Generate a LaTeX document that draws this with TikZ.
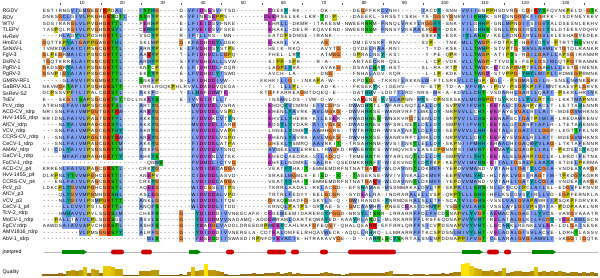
\documentclass[tikz,border=0pt]{standalone}
\usepackage{fontspec}
\setmainfont{Liberation Sans}
\newfontfamily\resfam{Liberation Sans}
\definecolor{hyd}{HTML}{80A0F0}
\definecolor{pos}{HTML}{F01505}
\definecolor{neg}{HTML}{C048C0}
\definecolor{pol}{HTML}{15C015}
\definecolor{gly}{HTML}{F09048}
\definecolor{pro}{HTML}{C0C000}
\definecolor{aro}{HTML}{15A4A4}
\definecolor{qlo}{HTML}{7F4F10}
\definecolor{qhi}{HTML}{FFE400}
\definecolor{jgreen}{HTML}{008A00}
\definecolor{jred}{HTML}{CC0000}
\newdimen\rescx \newdimen\rescxc \newdimen\rescy \newdimen\rescyb
\def\rdef#1#2{\expandafter\def\csname rcl#1\endcsname{#2}}
\rdef{A}{hyd}\rdef{I}{hyd}\rdef{L}{hyd}\rdef{M}{hyd}\rdef{F}{hyd}\rdef{W}{hyd}\rdef{V}{hyd}\rdef{C}{hyd}
\rdef{K}{pos}\rdef{R}{pos}
\rdef{E}{neg}\rdef{D}{neg}
\rdef{N}{pol}\rdef{Q}{pol}\rdef{S}{pol}\rdef{T}{pol}
\rdef{G}{gly}\rdef{P}{pro}\rdef{H}{aro}\rdef{Y}{aro}
\def\resloop#1{\ifx#1\relax\else\rescell#1\expandafter\resloop\fi}
\def\rescell#1{%
  \ifcsname rcl#1\endcsname
    \edef\rc{\csname rcl#1\endcsname}%
    \pgfsetfillcolor{\rc}%
    \pgfpathrectangle{\pgfqpoint{\rescx}{\rescy}}{\pgfqpoint{4.1pt}{6.4pt}}%
    \pgfusepath{fill}%
  \fi
  \rescxc=\rescx\advance\rescxc by 2.015pt
  \pgftext[base,at={\pgfqpoint{\rescxc}{\rescyb}}]{\uppercase{#1}}%
  \advance\rescx by 4.03pt\relax}
\newcommand\seqrow[4]{%
  \pgfmathsetlength\rescy{-7.835-6.33*#1}%
  \pgfmathsetlength\rescyb{-6.3-6.33*#1}%
  \rescx=42.3pt \resloop#2\relax
  \rescx=191.41pt \resloop#3\relax
  \rescx=388.88pt \resloop#4\relax}
\tikzset{
  lbl/.style={anchor=west,inner sep=0pt,font=\fontsize{5.2}{6}\selectfont},
  rul/.style={inner sep=0pt,font=\fontsize{4.4}{5}\selectfont},
  tickmark/.style={black!70,line width=0.4pt},
  jline/.style={gray!55,line width=0.9pt},
  helix/.style={fill=jred,rounded corners=2.3pt},
  strand/.style={fill=jgreen}
}
\begin{document}
\begin{tikzpicture}[x=1pt,y=1pt]
\fill[white] (0,0) rectangle (600,-277);
\useasboundingbox (0,0) rectangle (600,-277);
% ruler
\foreach \n in {10,20,...,130} \node[rul] (r\n) at ({40.3+4.03*\n+1.5},-3) {\n};
\foreach \n in {5,15,...,135} \draw[tickmark] ({40.3+4.03*\n},-2.5) -- ({40.3+4.03*\n},-5.2);
% labels
\foreach \nm [count=\i] in {RGDV,RDV,WTV,TLEPV,HvReV,HmEV-1,SsNsV-L,FgV-3,DsRV-1,PgRV-1,PgRV-2,GMRV-RF1,GaBRV-XL1,SsReV-SZ,TsEV,PcV\_rdrp,ACD-CV\_rdrp,HvV-145S\_rdrp,AfCV\_rdrp,VCV\_rdrp,CCRS-CV\_rdrp,CeCV-1\_rdrp,AMAV\_rdrp,GaCV-1\_rdrp,FoCV-1\_rdrp,ACD-CV\_p4,HvV-145S\_p4,CCRS-CV\_p4,PcV\_p3,AfCV\_p3,VCV\_p3,CeCV-1\_p4,TcV-2\_rdrp,MoCV-1\_rdrp,{FgCV rdrp},AMV1816\_rdrp,AbV-1\_rdrp}
  \node[lbl] (lab\i) at (2.5,{-4.67-6.33*\i}) {\nm};
\node[lbl] (jlab) at (2.5,-252) {jnetpred};
\node[lbl] (qlab) at (2.5,-272) {Quality};
% alignment
\begin{scope}
\resfam\fontsize{4.6}{5}\selectfont
\seqrow{1}{estirngVIeMGeGtKPdAL----ISTHG-----d-V}{FIDsEsVftsd--------DgekY-rk-----dk------deGffkkCV}{nhi-----IacdY-snn-VVIIenPPhsdvrG-cGiKYSfqvnkPeld-GTk}
\seqrow{2}{dnksGCLgIVLPkGhGKSdTL---SSrYP-----a-V}{FInEsEPPs---------DEErselsk-lkr-Td-P----daeekl-sr}{setiskh-ys-GGsyGnrVIISHHk-srLsnGGVkIIGrfk-isdfneykkv}
\seqrow{3}{sdsirarGLVLPvGhGKTTL----pErHP-----e-L}{FIEIDsVfnke--------EhrLL-dkmr-itakesm-nweerNNm-Fn}{nqlVrkyLrGGYY-snk-VILgHHP-gnLMPnGIIsIGVYaldsesnlekhv}
\seqrow{4}{tasPqlrGIVLPvGhGKSYL----cEHHP-----e-L}{FVEIDsVfske--------EhakL-delr-kqavend-sweerNSm-Fn}{nsyVkkAAkrGKY-dsk-IILgHHS-snLLPnGIrLLGIYsldteesvdqhv}
\seqrow{5}{----hLAgYVLPdshGKTTL----vsdYP-----r-I}{FtLLrs--mn---------eatdPsdnge-irank--------------}{--------sskkY-esk-IYLANNv-keLFdnGIrVLGVLkleshaGvedek}
\seqrow{6}{GqttkPYAIGAPPGaGKTHL----sklMP-----G-k}{FADhDDYLdgk--------EharL-va-----aG------dmievskF-}{rnv-----svP---tnk-MLLTWGP-fdtPkT-hGFIgYV-PtrttHSvhvk}
\seqrow{7}{tvmrdAFAICIPsGcGKTTL----ArrYP-----e-L}{FVDhDsYstPe--------heik-rkq-----avytG---qydeLrAA-}{rni------t-yd-ksk-ILLTWHP-stvPtG-VAVLAAMLvtGtqlrankr}
\seqrow{8}{GlPeGrMAICIPsGcGKTTL----AaKYP-----t-L}{FIDhDCLLGPq--------fhel-lrY-----atmGG---gPraLneY-}{ksi------y-pe-qPr-ILLTWGP-atiPSs-rGILGAFLLaPsGiranmr}
\seqrow{9}{tGqtkrrALAIPsGcGKTTL----ArMYP-----s-F}{FVDhDALLsvw--------siPP-sPr----r-a------artaeCkr-}{qsl------l-cP-vdk-VLLTWGP-ttvdSs-fePLGsIMLqtPGtranmk}
\seqrow{10}{GkdsGrYAIAIPsGeGKTTL----knTcP-----a-L}{FiDhDDLfdqr--------laGPLYra-----avakG---dsaaLNaY-}{hst-----sl-ra-rtP-VLLTWGk-EtcaPGmPtFLGaHLLLestGimenk}
\seqrow{11}{GsnPiGYAIAIPsGcGKTTL----ekTYP-----e-L}{FVDhDCYIswd--------avch-la------dnG-----fnhaLagv-}{kqr------l-lP-kdk-VLLTWGD-stvPPG-YHYLMIPLIrdweGPrmnk}
\seqrow{12}{-----gLAVVIPsGmGKTTL----SnkFP-----s-L}{FIDhDDIVw--------kkhkiLIGi-inkaPa-w-----kpdSGl-tk}{kniLrkknLW-ftlsrkVLLCHgP-GgL--PsGMrLGILn-snsLnWnkGrk}
\seqrow{13}{nkvmGkTAFIIPsGhGKSTT----vrrlrgqkPhlrv}{VLDaDEvqega--------ti-lLLPl-----ad-k----fksekYk-i}{gehv----n-etP-td-a-VFVHa-iPgv-PsGYkPIFIMntkaevPlGrvk}
\seqrow{14}{dcPssvPFILIPalcGKSTL----AkkFd-----y-L}{LHDfDDWtE--------ktGffarreaGmtdqeq-e----datHHv-ld}{dtILrd-nrs-Mr-a-kdVLLCHT-vsdArhLGArILqAFI-PskrLhrIVk}
\seqrow{15}{e---skGIISAPsGcGKTFTtdllnkEYS-----e-I}{VvDIDtLLt----------insWnlds-ivw-d-w-----saKenG-Yv}{VLAPnn-WYs-dPnskskVLMCHSPGtgYkkdLLYVLPtYd-lkktMAPnnk}
\seqrow{16}{atrhnLFAVIMPsGcGKTSL----ArtYG--------}{MVDVDELvsra--------EhdqYVcmrn-eIVcGpg--dWwdHNtl-W}{farlnqtLaLLdY-svPVVIFVHT-EEtALcIGArPyAcLt-lettaHennr}
\seqrow{17}{nrisnLFAIVMPGGtGKTKW----ArEYG--------}{LVDVDELvsPd--------EhenLYAvrk-AVLmGkG--dWvhHNse-W}{anrvrftLmkLdY-nrPVVLLcHT-EEfAyeVGALrILAIt-mdeGVWhkns}
\seqrow{18}{rridnLFAIVLPaGtGKTYL----AkkYG--------}{FIDVDkCVtYn--------EhvLLYherk-kILesEr--rWadHNeS-W}{nskvrGtLemLdY-srPVVILCHS-EEnAFecIGAtPIMIA-lredaWrenv}
\seqrow{19}{----nLYAIVMPaGcGKSYL----AkkYG--------}{MVDVDELIarG--------EdsYLYvdar-AIIvGkG--dWadHNes-W}{fsrlneTLdLLdY-smPVIIFVHT-EEtALgIGArFIAFLr-ltetaHenns}
\seqrow{20}{---snLFAIVMPaGcGKTHY----AkrYG--------}{FVDVDELvaPr--------lhneLYdmrY-AAmhGrs--tWtkHNdr-W}{vsaInkTLdLFdY-sePVVVLLHH-EEtALeIGAIIILGGp-lkgtTFklnr}
\seqrow{21}{i--snLFAIVMPGGtGKTKW----ArEYG--------}{LVDVDELvsPd--------EhenLYAvrk-AVLmGkG--dWvhHNse-W}{anrvrftLmkLdY-nrPVVLLcHT-EEfAyeVGALrILAIt-mdeGVWhkns}
\seqrow{22}{---snLFAIVMPaGcGKTTM----AkkYG--------}{FIDVDELatPa--------GhekLYsmrq-AAVrkiT--trsaHNnm-W}{vsiInkTLeLLdY-skPnIIFMHH-ErAALhIGAqWYVLAG-ltktaFennr}
\seqrow{23}{vi-CdLYAIVIPsGsGKTTM----ArkFG--------}{FIDVDEVIsnq--------AVmekLVLerrelirWGkd-rWeeHNks-W}{ymqvhsvLassdPGnnPsIIMVHT-EEmAYeLGAgPLLALt-PkdsLsYkqr}
\seqrow{24}{-----MFAFIMPaGhGKTTY----AhkYS--------}{FVDVDnLVtkk--------EhedLaedra-sILaGqq--trmeHNtk-W}{yarlnqTLdLLdY-smPVVILYHT-EEiALeLGArPIGCLk-lrrdiFetnk}
\seqrow{25}{--------------------------qnWS-------}{FVDMDLICtvG--------EhfLLndmrL-sALrk-qsedmkkHNfI-W}{iekvndTLdYFkP-kePVVIMVHN-EiIALIGsALPLAAYA-stdeLPkrma}
\seqrow{26}{krrenLFAIVLPaGcGKSTL----crkYG--------}{LVDIDECaGGa--------veatYYhaiT-emmemdrfntnatGaKV-W}{ldaVnnTLdkMVF-yePdVVMAnd-vVtAhLIGAtYLCGIA-vndeaYarGk}
\seqrow{27}{dlrPnLYTVVMPGhcGKTTI----anEPv--------}{CIDVDDLasvd--------sraeLMGmlk-eiSd--S---Tasekse-W}{vivInkaLdkMVF-eePVVMLYHd-hLtAkLVGsIrAGtIM-tPkdGYkgrr}
\seqrow{28}{---enLFAIVLPaGcGKSTL----crkYG--------}{LVDIDECaGGa--------veatYYhaiT-emmemdrfntnatGaKV-W}{ldaVnnTLdkMVF-yePdVVMAnd-vVtAhLIGAtYLCGIA-vndeaYarGk}
\seqrow{29}{ldkcPLYGVVMPGhcGKSTL----aqEEG--------}{WIDcGsLItPs--------tkrrLaadal-rkLacGd--efsHaMae-M}{ssmmakaLdVLtP-skPAILLSHS-nLLkIcqIPcLAILsl-edGVfeknvr}
\seqrow{30}{----qLYGVVMPGmhGKSHL----asLEG--------}{WIDVDDALvPd--------trtrLFedyy-eelGcGr--sydEaLra-i}{ndrarALeLLvsP-qrPTLLLSHS-hFLksCgVsYIrLLVd-eGPfernkla}
\seqrow{31}{----nLYGIVIPsMPGKTTT----AnkLG--------}{WIDVDDLItqe--------GraqSmadfG-skyLs-q--GWirande-Y}{nrmderALsLLtF-scaTVILGHS-vssLVAIGVAPAmrIIPsqkPfdrvkk}
\seqrow{32}{-----LLCVVIPsilGKTTL----AnqFS--------}{WIDVDDLItdd--------krnqLPatPs-grYae-s--GmcAaMhF-P}{neecEasIdrMYP-ysGTVVLAHS-vssLAyLGIVPsIrIa-PddPaaklnr}
\seqrow{33}{----hMHAVVLPvlsGKSLM----chkFS-----G--}{-YDIDDdIVvneecafk-cDgeWeemidarergYpGGd-nrsYLtSNr-}{lrrarrFFdLFVcdSnaPVLYVGT-AEMAcALGAeILYVCs-varGvaaatr}
\seqrow{34}{---PaLLtAIVLPlsGKSgL----AsvLS-----G--}{-YDIDDmVVnadamq-addEWramLdartkqwaYed-kaaYrLaNdL-m}{lrkarrFFlrsfeqdnaPVVYVHT-rELAtALGLkILFCGY-vEGaAMLscn}
\seqrow{35}{aawdsAIAVVAPvchGKSTL----AshFS-----G--}{-YDaDGLVaddldreedrPWEEYcahlrafGfeqGt-qhalqeaRR-ef}{frrlqrFFsIcvPdsnaPVVYVHT-lEcAHkLrenkLVLEa-ldlGaIsesk}
\seqrow{36}{---------VLPmsGGKSTY----AlrFG-----G--}{-YDIDDdIVvnerela-cdtEaLdmfelrhqavWeck-aqqlLrHrq-l}{lmrarrFFtkcsPdsnLMIVYLHT-vELAdALGIsVLAcVe-ldrhTlassv}
\seqrow{37}{--------------------------MLS-----G--}{-FDsDSdIIswaedirPnfdVEVACIs-htrakavvGe--d--iaHNlS}{cYSkrtaLsnLnPddnaPPIFVGT-CeLArAIGVGIAMVLI-vkGGiiGqtk}
\end{scope}
% jnetpred
\draw[jline] (44,-252) -- (598,-252);
\foreach \a/\b in {111/124,141/152,226/234,267/286,291/299,320/328,348/396,487/499,504/511}
  \path[helix] (\a,-249.6) rectangle (\b,-254.4);
\foreach \a/\b in {62/87,189/201,462/483,532/556} {
  \path[strand] (\a,-250.4) rectangle ({\b-4},-253.6);
  \path[strand] ({\b-4.5},-249.3) -- (\b,-252) -- ({\b-4.5},-254.7) -- cycle;
}
% quality
\foreach \h [count=\c] in {2,2,2,2,3,2,5,6,5,6,
  9,3,7,6,3,10,10,9,7,7,
  0.4,0.4,0.4,0.4,5,5,5,6,6,0.4,
  0.4,0.4,0.4,0.4,2,1,4,9,5,6,
  12,6,6,5,4,1.5,1,1,1,2,
  2,2,3,2,2,3,3,3,4,2,
  3,4,2,3,2,2,2,2,2,3,
  4,3,2,2,1,2,3,3,3,3,
  3,3,3,3,3,4,5,2,2,2,
  2,1,2,2,2,1,2,2,2,3,
  2,3,4,4,12,13,10,8,7,5,
  5,6,4,5,8,3,4,5,5,4,
  4,5,9,4,5,4,5,4,5,4,
  3,4,4,3,4,3,4,3} {
  \pgfmathsetmacro\pc{min(100,\h*100/12)}
  \fill[qhi!\pc!qlo] ({42.3+4.03*(\c-1)},-275.5) rectangle ({42.3+4.03*\c+0.05},{-275.5+\h});
}
\end{tikzpicture}
\end{document}
